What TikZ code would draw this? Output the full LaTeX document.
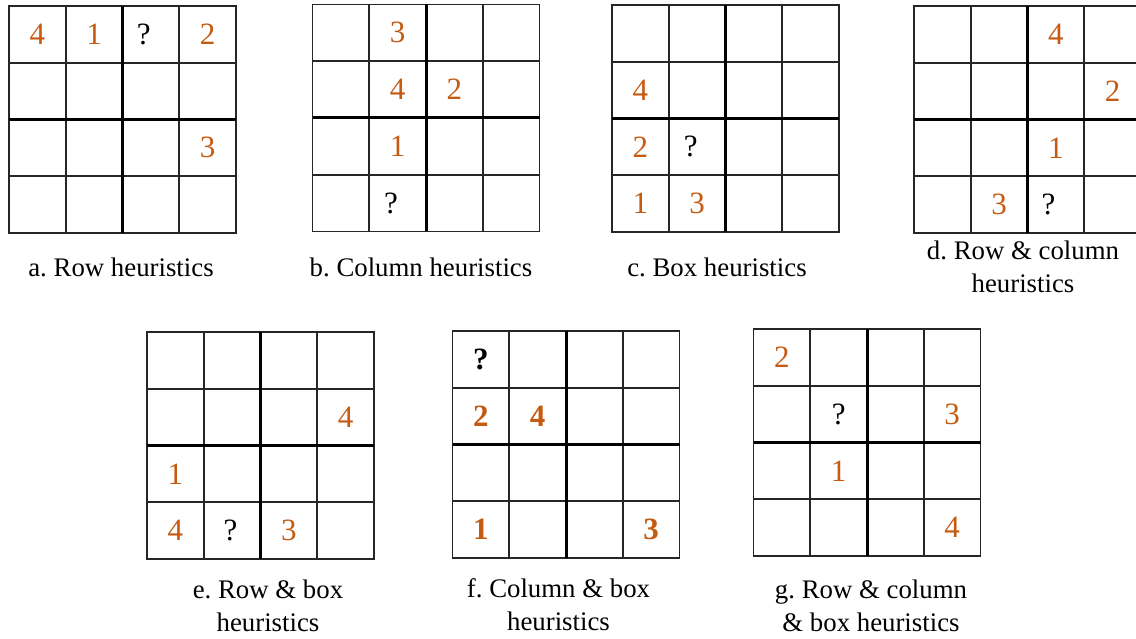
\documentclass[tikz,border=0pt]{standalone}
\usepackage{fontspec}
\setmainfont{Liberation Serif}
\usepackage{tikz}
\frenchspacing
\definecolor{clue}{RGB}{197,90,17}
\tikzstyle{cellline}=[draw=black!85, line width=1.6pt]
\tikzstyle{boxline}=[draw=black, line width=3pt]
\tikzstyle{given}=[text=clue, inner sep=0pt, font=\fontsize{31}{31}\selectfont]
\tikzstyle{boldgiven}=[given, font=\fontsize{31}{31}\selectfont\bfseries]
\tikzstyle{query}=[text=black, inner sep=0pt, font=\fontsize{31}{31}\selectfont]
\tikzstyle{boldquery}=[query, font=\fontsize{31}{31}\selectfont\bfseries]
\tikzstyle{caption}=[align=center, inner sep=0pt, font=\fontsize{26.8}{33}\selectfont]
% one 4x4 board, drawn in cell units
\newcommand{\puzzlegrid}{%
  \draw[cellline] (0,0) rectangle (4,4) (1,0) -- (1,4) (3,0) -- (3,4) (0,1) -- (4,1) (0,3) -- (4,3);
  \draw[boxline] (2,0) -- (2,4) (0,2) -- (4,2);}

\begin{document}
\begin{tikzpicture}[x=1pt, y=1pt]
    \useasboundingbox (0,0) rectangle (1136,-639);
    % a
    \begin{scope}[shift={(9,-6)}, x=56.75pt, y=-56.75pt]
    \puzzlegrid
    \node[given] (a11) at (0.5,0.5) {4};
    \node[given] (a12) at (1.5,0.5) {1};
    \node[query, xshift=-7pt] (a13) at (2.5,0.5) {?};
    \node[given] (a14) at (3.5,0.5) {2};
    \node[given] (a34) at (3.5,2.5) {3};
    \end{scope}
    \node[caption] (capa) at (121,-267.5) {a. Row heuristics};
    % b
    \begin{scope}[shift={(312.5,-4.5)}, x=56.75pt, y=-56.75pt]
    \puzzlegrid
    \node[given] (b12) at (1.5,0.5) {3};
    \node[given] (b22) at (1.5,1.5) {4};
    \node[given] (b23) at (2.5,1.5) {2};
    \node[given] (b32) at (1.5,2.5) {1};
    \node[query, xshift=-6.5pt] (b42) at (1.5,3.5) {?};
    \end{scope}
    \node[caption] (capb) at (421,-267.5) {b. Column heuristics};
    % c
    \begin{scope}[shift={(612,-5)}, x=56.75pt, y=-56.75pt]
    \puzzlegrid
    \node[given] (c21) at (0.5,1.5) {4};
    \node[given] (c31) at (0.5,2.5) {2};
    \node[query, xshift=-6.5pt] (c32) at (1.5,2.5) {?};
    \node[given] (c41) at (0.5,3.5) {1};
    \node[given] (c42) at (1.5,3.5) {3};
    \end{scope}
    \node[caption] (capc) at (717,-267.5) {c. Box heuristics};
    % d
    \begin{scope}[shift={(914,-6)}, x=56.75pt, y=-56.75pt]
    \puzzlegrid
    \node[given] (d13) at (2.5,0.5) {4};
    \node[given] (d24) at (3.5,1.5) {2};
    \node[given] (d33) at (2.5,2.5) {1};
    \node[given] (d42) at (1.5,3.5) {3};
    \node[query, xshift=-7.5pt] (d43) at (2.5,3.5) {?};
    \end{scope}
    \node[caption] (capd) at (1023,-267) {d. Row \& column\\heuristics};
    % e
    \begin{scope}[shift={(147,-332)}, x=56.75pt, y=-56.75pt]
    \puzzlegrid
    \node[given] (e24) at (3.5,1.5) {4};
    \node[given] (e31) at (0.5,2.5) {1};
    \node[given] (e41) at (0.5,3.5) {4};
    \node[query, xshift=-1.5pt] (e42) at (1.5,3.5) {?};
    \node[given] (e43) at (2.5,3.5) {3};
    \end{scope}
    \node[caption] (cape) at (268,-605.4) {e. Row \& box\\heuristics};
    % f
    \begin{scope}[shift={(452.5,-331)}, x=56.75pt, y=-56.75pt]
    \puzzlegrid
    \node[boldquery] (f11) at (0.5,0.5) {?};
    \node[boldgiven] (f21) at (0.5,1.5) {2};
    \node[boldgiven] (f22) at (1.5,1.5) {4};
    \node[boldgiven] (f41) at (0.5,3.5) {1};
    \node[boldgiven] (f44) at (3.5,3.5) {3};
    \end{scope}
    \node[caption] (capf) at (558.5,-604.7) {f. Column \& box\\heuristics};
    % g
    \begin{scope}[shift={(753.5,-329)}, x=56.75pt, y=-56.75pt]
    \puzzlegrid
    \node[given] (g11) at (0.5,0.5) {2};
    \node[query] (g22) at (1.5,1.5) {?};
    \node[given] (g24) at (3.5,1.5) {3};
    \node[given] (g32) at (1.5,2.5) {1};
    \node[given] (g44) at (3.5,3.5) {4};
    \end{scope}
    \node[caption] (capg) at (871,-605.4) {g. Row \& column\\\& box heuristics};
\end{tikzpicture}
\end{document}
